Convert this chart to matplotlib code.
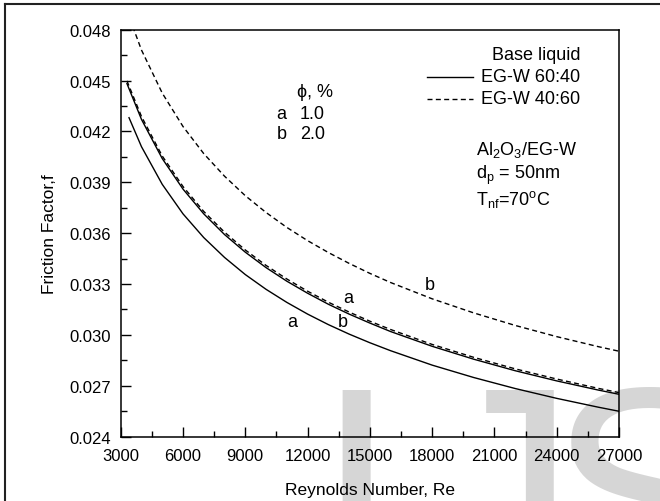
import matplotlib
matplotlib.use("Agg")
import matplotlib.pyplot as plt
from matplotlib.lines import Line2D
from matplotlib.ticker import MultipleLocator, FormatStrFormatter

plt.rcParams['font.family'] = ['Liberation Sans', 'DejaVu Sans']
plt.rcParams['mathtext.fontset'] = 'custom'
plt.rcParams['mathtext.rm'] = 'Liberation Sans'
plt.rcParams['mathtext.it'] = 'Liberation Sans'

# Reynolds numbers (x)
re = [3300, 4000, 5000, 6000, 7000, 8000, 9000, 10000, 11000, 12000, 13000,
      14000, 15000, 16000, 18000, 20000, 22000, 24000, 26000, 27000]
re_low = [3400] + re[1:]

# EG-W 60:40, phi = 1.0 % (a) - lower solid
f_6040_a = [0.04281, 0.04110, 0.03888, 0.03714, 0.03574, 0.03457, 0.03356,
            0.03269, 0.03192, 0.03123, 0.03061, 0.03005, 0.02954, 0.02907,
            0.02822, 0.02749, 0.02684, 0.02626, 0.02574, 0.02550]
# EG-W 60:40, phi = 2.0 % (b) - upper solid
f_6040_b = [0.04482, 0.04271, 0.04040, 0.03860, 0.03714, 0.03592, 0.03488,
            0.03397, 0.03317, 0.03246, 0.03181, 0.03123, 0.03070, 0.03020,
            0.02933, 0.02857, 0.02789, 0.02729, 0.02675, 0.02650]
# EG-W 40:60, phi = 1.0 % (a) - dashed on top of upper solid
f_4060_a = [0.04498, 0.04288, 0.04055, 0.03875, 0.03728, 0.03606, 0.03501,
            0.03410, 0.03330, 0.03258, 0.03193, 0.03135, 0.03081, 0.03032,
            0.02944, 0.02868, 0.02800, 0.02740, 0.02685, 0.02660]
# EG-W 40:60, phi = 2.0 % (b) - top dashed
f_4060_b = [0.04911, 0.04680, 0.04426, 0.04229, 0.04069, 0.03936, 0.03821,
            0.03722, 0.03634, 0.03556, 0.03486, 0.03422, 0.03363, 0.03309,
            0.03213, 0.03130, 0.03056, 0.02990, 0.02931, 0.02904]

x_ticks = list(range(3000, 27001, 3000))
y_ticks = [0.024, 0.027, 0.030, 0.033, 0.036, 0.039, 0.042, 0.045, 0.048]

fig = plt.figure(figsize=(6.6, 5.02), dpi=100)

# watermark letters behind the plot (cut by the bottom edge)
wm = dict(fontsize=216, color='#d6d6d6', ha='left', va='baseline', zorder=0)
fig.text(0.476, -0.19, 'I', **wm)
fig.text(0.644, -0.19, 'J', **wm)
fig.text(0.829, -0.19, 'SER', **wm)

ax = fig.add_axes([0.1829, 0.1281, 0.755, 0.8108])
ax.patch.set_alpha(0)
ax.set_zorder(1)

dash = (0, (3.6, 2.4))
ax.plot(re_low, f_6040_a, color='black', lw=1.0)
ax.plot(re, f_6040_b, color='black', lw=1.0)
ax.plot(re, f_4060_a, color='black', lw=1.0, linestyle=dash)
ax.plot(re, f_4060_b, color='black', lw=1.0, linestyle=dash)

ax.set_xlim(3000, 27000)
ax.set_ylim(0.024, 0.048)
ax.set_xticks(x_ticks)
ax.set_yticks(y_ticks)
ax.xaxis.set_minor_locator(MultipleLocator(1500))
ax.yaxis.set_minor_locator(MultipleLocator(0.0015))
ax.yaxis.set_major_formatter(FormatStrFormatter('%.3f'))
ax.tick_params(which='both', direction='in', labelsize=12, width=1.0)
ax.tick_params(which='major', length=7)
ax.tick_params(which='minor', length=4)
ax.tick_params(axis='x', pad=8)
ax.tick_params(axis='y', pad=7)
for sp in ax.spines.values():
    sp.set_linewidth(1.1)

ax.set_xlabel('Reynolds Number, Re', fontsize=12.5, labelpad=14)
ax.set_ylabel('Friction Factor,f', fontsize=12.5, labelpad=9)

fs = 13
ax.text(0.354, 0.849, 'ϕ, %', transform=ax.transAxes, fontsize=fs, va='center')
ax.text(0.313, 0.793, 'a', transform=ax.transAxes, fontsize=fs, va='center')
ax.text(0.360, 0.793, '1.0', transform=ax.transAxes, fontsize=fs, va='center')
ax.text(0.313, 0.746, 'b', transform=ax.transAxes, fontsize=fs, va='center')
ax.text(0.360, 0.746, '2.0', transform=ax.transAxes, fontsize=fs, va='center')

# legend drawn by hand to match the original layout
ax.text(0.922, 0.940, 'Base liquid', transform=ax.transAxes, fontsize=fs,
        ha='right', va='center')
ax.text(0.922, 0.884, 'EG-W 60:40', transform=ax.transAxes, fontsize=fs,
        ha='right', va='center')
ax.text(0.922, 0.830, 'EG-W 40:60', transform=ax.transAxes, fontsize=fs,
        ha='right', va='center')
ax.plot([0.615, 0.707], [0.884, 0.884], transform=ax.transAxes,
        color='black', lw=1.0)
ax.plot([0.615, 0.707], [0.830, 0.830], transform=ax.transAxes,
        color='black', lw=1.0, linestyle=dash)

ax.text(0.712, 0.707, r'Al$_2$O$_3$/EG-W', transform=ax.transAxes,
        fontsize=fs, va='center')
ax.text(0.712, 0.644, r'd$_p$ = 50nm', transform=ax.transAxes,
        fontsize=fs, va='center')
ax.text(0.712, 0.584, r'T$_{nf}$=70$^o$C', transform=ax.transAxes,
        fontsize=fs, va='center')

# curve labels
ax.text(11250, 0.03082, 'a', fontsize=fs, ha='center', va='center')
ax.text(13948, 0.03218, 'a', fontsize=fs, ha='center', va='center')
ax.text(13707, 0.03082, 'b', fontsize=fs, ha='center', va='center')
ax.text(17897, 0.03300, 'b', fontsize=fs, ha='center', va='center')

# frame lines along the top and left edge of the image
fig.add_artist(Line2D([0.0076, 0.0076], [0, 0.991], color='#222222', lw=1.5))
fig.add_artist(Line2D([0.0076, 1.0], [0.991, 0.991], color='#222222', lw=1.5))

fig.savefig('out.png', dpi=100)
